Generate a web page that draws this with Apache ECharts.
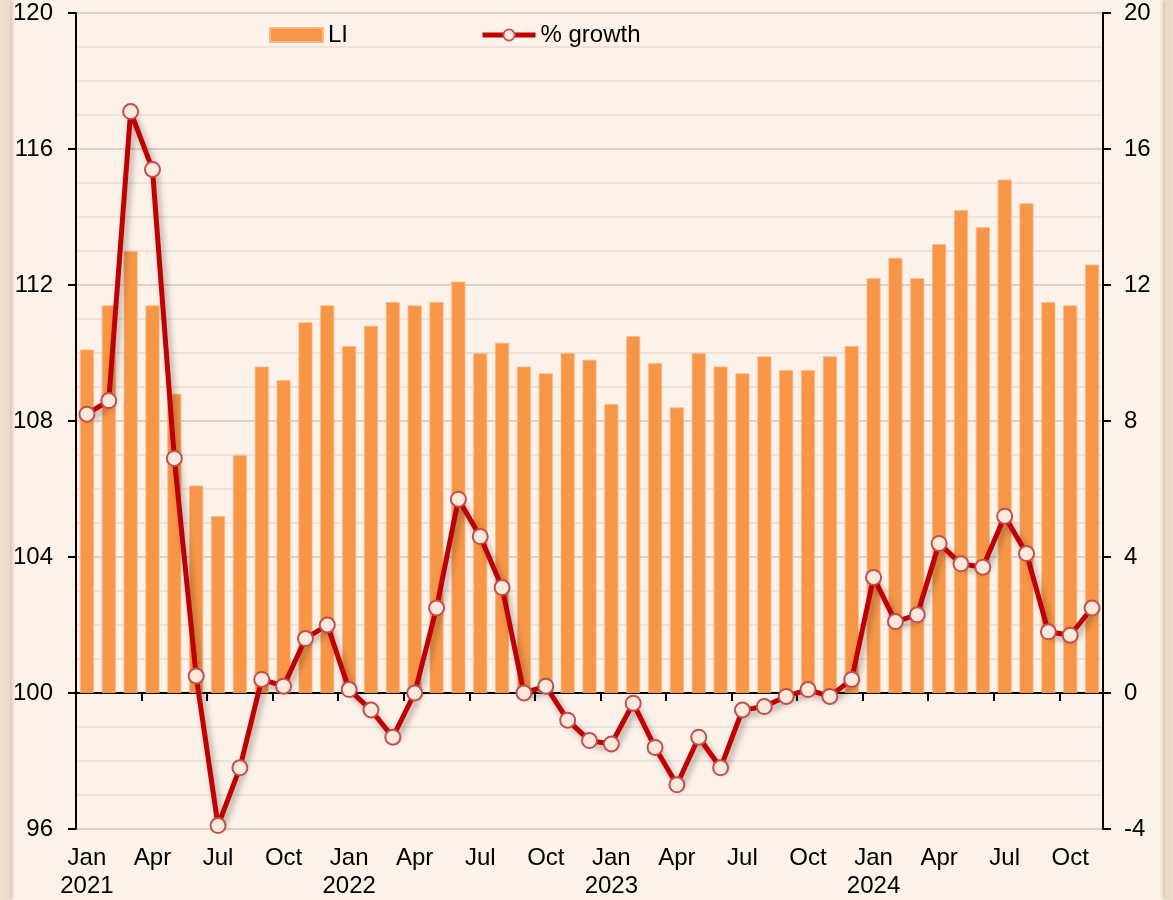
<!DOCTYPE html>
<html>
<head>
<meta charset="utf-8">
<script src="https://cdn.jsdelivr.net/npm/echarts@6/dist/echarts.min.js"></script>
<style>
  html, body { margin: 0; padding: 0; background: #FDF2EA; }
  #wrap { position: relative; width: 1173px; height: 900px; overflow: hidden; background: #FDF2EA; }
  #chart { position: absolute; left: 0; top: 0; width: 1173px; height: 900px; }
  .edgeL { position: absolute; left: 0; top: 0; width: 10px; height: 900px; background: linear-gradient(to right, #EEDFCF, #E9D9C8); box-shadow: 2px 0 4px rgba(120,90,60,0.35); pointer-events: none; }
  .edgeR { position: absolute; right: 0; top: 0; width: 8px; height: 900px; background: linear-gradient(to right, #E9D9C8, #EEDFCF); box-shadow: -2px 0 4px rgba(120,90,60,0.35); pointer-events: none; }
</style>
</head>
<body>
<div id="wrap">
  <div id="chart"></div>
  <div class="edgeL"></div>
  <div class="edgeR"></div>
</div>
<script>
const categories = [
  'Jan 2021','Feb 2021','Mar 2021','Apr 2021','May 2021','Jun 2021','Jul 2021','Aug 2021','Sep 2021','Oct 2021','Nov 2021','Dec 2021',
  'Jan 2022','Feb 2022','Mar 2022','Apr 2022','May 2022','Jun 2022','Jul 2022','Aug 2022','Sep 2022','Oct 2022','Nov 2022','Dec 2022',
  'Jan 2023','Feb 2023','Mar 2023','Apr 2023','May 2023','Jun 2023','Jul 2023','Aug 2023','Sep 2023','Oct 2023','Nov 2023','Dec 2023',
  'Jan 2024','Feb 2024','Mar 2024','Apr 2024','May 2024','Jun 2024','Jul 2024','Aug 2024','Sep 2024','Oct 2024','Nov 2024'
];
const liValues = [
  110.1, 111.4, 113.0, 111.4, 108.8, 106.1, 105.2, 107.0, 109.6, 109.2, 110.9, 111.4,
  110.2, 110.8, 111.5, 111.4, 111.5, 112.1, 110.0, 110.3, 109.6, 109.4, 110.0, 109.8,
  108.5, 110.5, 109.7, 108.4, 110.0, 109.6, 109.4, 109.9, 109.5, 109.5, 109.9, 110.2,
  112.2, 112.8, 112.2, 113.2, 114.2, 113.7, 115.1, 114.4, 111.5, 111.4, 112.6
];
const growthValues = [
  8.2, 8.6, 17.1, 15.4, 6.9, 0.5, -3.9, -2.2, 0.4, 0.2, 1.6, 2.0,
  0.1, -0.5, -1.3, 0.0, 2.5, 5.7, 4.6, 3.1, 0.0, 0.2, -0.8, -1.4,
  -1.5, -0.3, -1.6, -2.7, -1.3, -2.2, -0.5, -0.4, -0.1, 0.1, -0.1, 0.4,
  3.4, 2.1, 2.3, 4.4, 3.8, 3.7, 5.2, 4.1, 1.8, 1.7, 2.5
];
const leftTicks = { min: 96, max: 120, interval: 4 };
const rightTicks = { min: -4, max: 20, interval: 4 };
const liBase = 100; // LI bars rise from 100, which sits at 0 on the right axis

const FONT = 'Liberation Sans, Arial, sans-serif';
const FS = 24;
const chart = echarts.init(document.getElementById('chart'), null, { renderer: 'canvas' });

const option = {
  backgroundColor: 'transparent',
  animation: false,
  textStyle: { fontFamily: FONT },
  grid: { left: 76, right: 70, top: 13, bottom: 71, containLabel: false },
  legend: {
    left: 269, top: 23, padding: 0,
    itemWidth: 53, itemHeight: 14, itemGap: 132,
    textStyle: { fontSize: FS, color: '#000', fontFamily: FONT },
    data: [
      { name: 'LI', icon: 'rect' },
      { name: '% growth', lineStyle: { width: 5, color: '#C00000' },
        itemStyle: { color: '#FCE8DC', borderColor: '#C0504D', borderWidth: 1.8 } }
    ]
  },
  xAxis: [
    {
      type: 'category', data: categories, position: 'bottom',
      axisLine: { show: false, onZero: false },
      axisTick: { show: false },
      axisLabel: {
        interval: 2, margin: 15, color: '#000', fontSize: FS, fontFamily: FONT, lineHeight: 28,
        formatter: function (v, i) {
          const p = v.split(' ');
          return i % 12 === 0 ? p[0] + '\n' + p[1] : p[0];
        }
      },
      splitLine: { show: false }
    },
    {
      type: 'category', data: categories, position: 'bottom',
      axisLine: { show: true, onZero: true, onZeroAxisIndex: 1, lineStyle: { color: '#000', width: 2 } },
      axisTick: { show: true, interval: 2, length: 8, lineStyle: { color: '#000', width: 2 } },
      axisLabel: { show: false },
      splitLine: { show: false }
    }
  ],
  yAxis: [
    {
      type: 'value', position: 'left',
      min: leftTicks.min, max: leftTicks.max, interval: leftTicks.interval,
      axisLine: { show: true, lineStyle: { color: '#000', width: 2 } },
      axisTick: { show: true, length: 8, lineStyle: { color: '#000', width: 2 } },
      axisLabel: { color: '#000', fontSize: FS, fontFamily: FONT, margin: 23 },
      splitLine: { show: true, lineStyle: { color: '#D2C4BA', width: 1.5 } },
      minorTick: { show: false, splitNumber: 4 },
      minorSplitLine: { show: true, lineStyle: { color: '#E8DCD3', width: 1.5 } }
    },
    {
      type: 'value', position: 'right',
      min: rightTicks.min, max: rightTicks.max, interval: rightTicks.interval,
      axisLine: { show: true, lineStyle: { color: '#000', width: 2 } },
      axisTick: { show: true, length: 8, lineStyle: { color: '#000', width: 2 } },
      axisLabel: { color: '#000', fontSize: FS, fontFamily: FONT, margin: 21 },
      splitLine: { show: false }
    }
  ],
  series: [
    {
      name: 'LI', type: 'bar', xAxisIndex: 0, yAxisIndex: 1,
      data: liValues.map(v => +(v - liBase).toFixed(2)),
      barWidth: 14,
      itemStyle: { color: '#F79646', borderColor: '#FAB884', borderWidth: 0.8 },
      z: 2
    },
    {
      name: '% growth', type: 'line', xAxisIndex: 0, yAxisIndex: 1,
      data: growthValues,
      symbol: 'circle', symbolSize: 15, showAllSymbol: true,
      lineStyle: {
        color: '#C00000', width: 5,
        shadowColor: 'rgba(60,40,30,0.4)', shadowBlur: 6, shadowOffsetX: 3, shadowOffsetY: 4
      },
      itemStyle: { color: '#FCE8DC', borderColor: '#C0504D', borderWidth: 2 },
      z: 5
    }
  ]
};
chart.setOption(option);
</script>
</body>
</html>
